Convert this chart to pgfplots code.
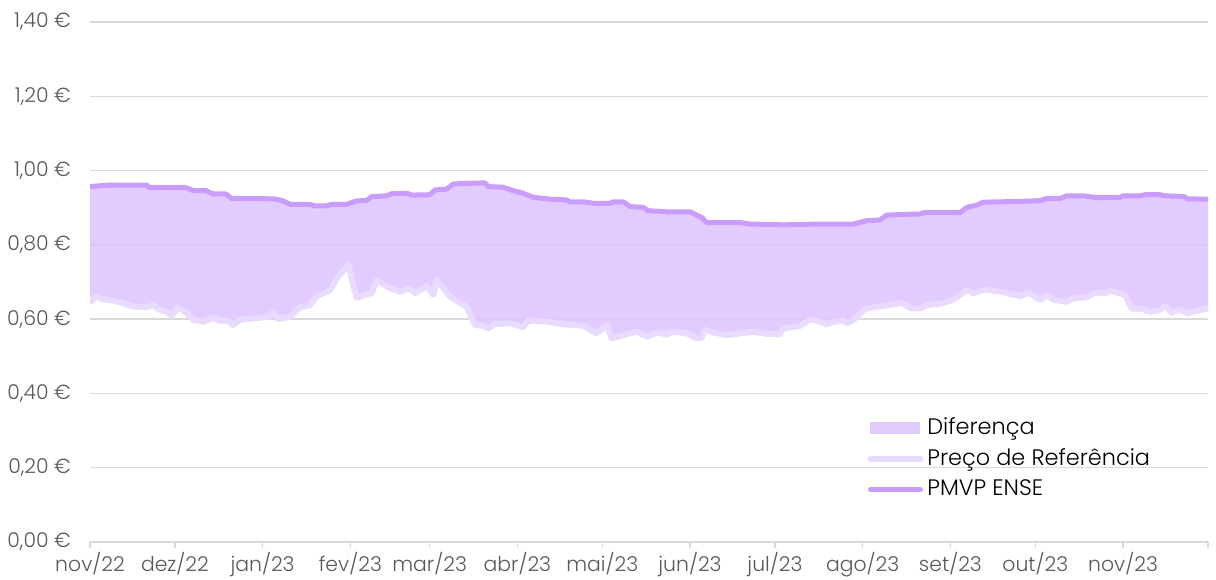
\documentclass[border=0pt]{standalone}
\usepackage{fontspec}
\setmainfont{Poppins}[UprightFont={* Light}]
\usepackage{pgfplots}
\usepackage{pgfplotstable}
\pgfplotsset{compat=1.18}
\usepgfplotslibrary{fillbetween}
\definecolor{pmc}{HTML}{C99CFD}
\definecolor{refc}{HTML}{E9DAFF}
\definecolor{diffc}{HTML}{DCC2FF}
\definecolor{gridc}{HTML}{D9D9D9}
\definecolor{tickc}{HTML}{595959}

\pgfplotstableread{
d v
0 0.957
7 0.961
20 0.961
21 0.954
34 0.954
36.5 0.946
41 0.946
43.5 0.937
48 0.937
50 0.925
65 0.924
68 0.919
70.7 0.909
77.7 0.909
79.5 0.905
83.6 0.905
85.4 0.909
90.7 0.909
94 0.918
97.8 0.920
99.5 0.930
104.8 0.932
106.6 0.938
112 0.939
113.7 0.934
120 0.935
122 0.948
126 0.950
128.4 0.964
135 0.966
139.6 0.967
140.7 0.957
146 0.955
149.5 0.946
153 0.939
156.6 0.928
162.5 0.923
168.4 0.921
169.6 0.916
174.3 0.916
177.8 0.912
183.7 0.912
184.9 0.916
188.4 0.916
190.8 0.903
195.5 0.901
197.2 0.892
203.8 0.889
212 0.889
214.4 0.880
216.1 0.874
217.9 0.860
229.7 0.860
233.2 0.856
244.9 0.854
258 0.856
269.6 0.856
274.4 0.865
279 0.867
281.5 0.880
287.4 0.882
293 0.883
295 0.887
307.4 0.887
309.8 0.901
313.3 0.907
315.7 0.915
328.6 0.917
335.7 0.919
338 0.925
342.8 0.925
345.1 0.932
351 0.932
355.7 0.927
364 0.928
365 0.932
371 0.932
372.8 0.935
378 0.935
380 0.932
386.6 0.930
387.5 0.924
395 0.923
}\pmvp

\pgfplotstableread{
d v
0 0.647
2.4 0.661
4.7 0.653
8.2 0.650
11.8 0.643
15.3 0.634
20 0.632
22.4 0.638
24.1 0.627
27.1 0.620
28.9 0.609
31.2 0.631
34.2 0.616
36.5 0.598
40 0.593
43.6 0.604
46 0.595
49 0.595
50.6 0.584
53 0.598
60 0.604
63.6 0.607
64.8 0.620
66.5 0.600
70.7 0.607
74.2 0.632
77.7 0.638
80.1 0.662
84.8 0.677
87.2 0.710
91.3 0.746
94.2 0.658
97.8 0.667
99.5 0.670
101.3 0.705
106 0.683
109.5 0.674
113 0.683
114.8 0.670
119 0.689
121.3 0.665
122.5 0.705
127.2 0.661
131.9 0.638
133 0.634
136 0.584
139 0.582
140.7 0.575
143 0.587
148.4 0.589
153 0.578
154.9 0.596
162.5 0.593
166 0.587
174.3 0.582
179 0.562
182.6 0.584
184.3 0.548
190.8 0.562
193.2 0.566
196.7 0.553
200.2 0.564
203.8 0.559
206.1 0.566
210.8 0.562
214.4 0.548
216 0.549
217.3 0.571
220.3 0.564
225 0.557
229.7 0.562
234.4 0.566
239.1 0.560
243.8 0.560
245 0.575
251 0.582
254.4 0.600
258 0.593
260.3 0.586
262.6 0.593
266.2 0.596
267.4 0.589
269.7 0.598
273.9 0.627
276.8 0.632
282.7 0.638
286.8 0.644
289.8 0.629
293.3 0.629
295.7 0.638
300.4 0.641
305 0.652
309.8 0.679
312.1 0.670
316.3 0.680
321.6 0.674
328.6 0.662
331.6 0.671
335.7 0.652
338 0.665
340.4 0.652
345.1 0.647
347.5 0.656
352.2 0.659
354.5 0.670
358.7 0.670
360.4 0.677
365.7 0.665
368 0.629
372.2 0.627
374.6 0.620
378 0.625
380 0.635
382.2 0.617
385 0.627
387.5 0.616
391 0.623
395 0.629
}\refp

\begin{document}
\begin{tikzpicture}
\begin{axis}[
  name=main,
  scale only axis,
  width=559pt, height=260pt,
  xmin=0, xmax=395, ymin=0, ymax=1.4,
  axis x line*=bottom, axis y line*=left,
  x axis line style={-, draw=gridc, line width=0.75pt},
  y axis line style={draw=none},
  xtick={0,30,61,92,120,151,181,212,242,273,304,334,365,395},
  xticklabels={nov/22,dez/22,jan/23,fev/23,mar/23,abr/23,mai/23,jun/23,jul/23,ago/23,set/23,out/23,nov/23,{}},
  ytick={0,0.2,0.4,0.6,0.8,1.0,1.2,1.4},
  yticklabels={{0,00 €},{0,20 €},{0,40 €},{0,60 €},{0,80 €},{1,00 €},{1,20 €},{1,40 €}},
  ytick style={draw=none},
  xtick style={draw=gridc, line width=0.75pt},
  xtick align=outside,
  major tick length=3pt,
  ymajorgrids,
  grid style={draw=gridc, line width=0.75pt},
  ticklabel style={font=\fontsize{10.2}{12}\selectfont, text=tickc},
  yticklabel style={xshift=-6pt},
  xticklabel style={yshift=1.2pt},
  legend style={at={(rel axis cs:0.695,0.247)}, anchor=north west, draw=none, fill=none,
    font=\fontsize{11.2}{13}\selectfont, row sep=1.5pt, inner sep=0pt},
  legend cell align=left,
  legend image code/.code={\draw[#1] (0pt,0pt) -- (25pt,0pt);},
]
\addplot[name path=refpath, draw=none, forget plot] table[x=d,y=v] {\refp};
\addplot[name path=pmpath, draw=none, forget plot] table[x=d,y=v] {\pmvp};
\addplot[fill=diffc, fill opacity=0.85, draw=none,
  legend image code/.code={\fill[diffc] (0pt,-3.2pt) rectangle (25pt,3.2pt);}]
  fill between[of=refpath and pmpath];
\addlegendentry{Diferença}
\addplot[refc, line width=3pt, line join=round, line cap=round] table[x=d,y=v] {\refp};
\addlegendentry{Preço de Referência}
\addplot[pmc, line width=2.5pt, line join=round, line cap=round] table[x=d,y=v] {\pmvp};
\addlegendentry{PMVP ENSE}
\end{axis}
\pgfresetboundingbox
\path[use as bounding box] ([xshift=-45pt,yshift=-18.5pt]main.south west) rectangle ([xshift=4pt,yshift=11pt]main.north east);
\end{tikzpicture}
\end{document}
